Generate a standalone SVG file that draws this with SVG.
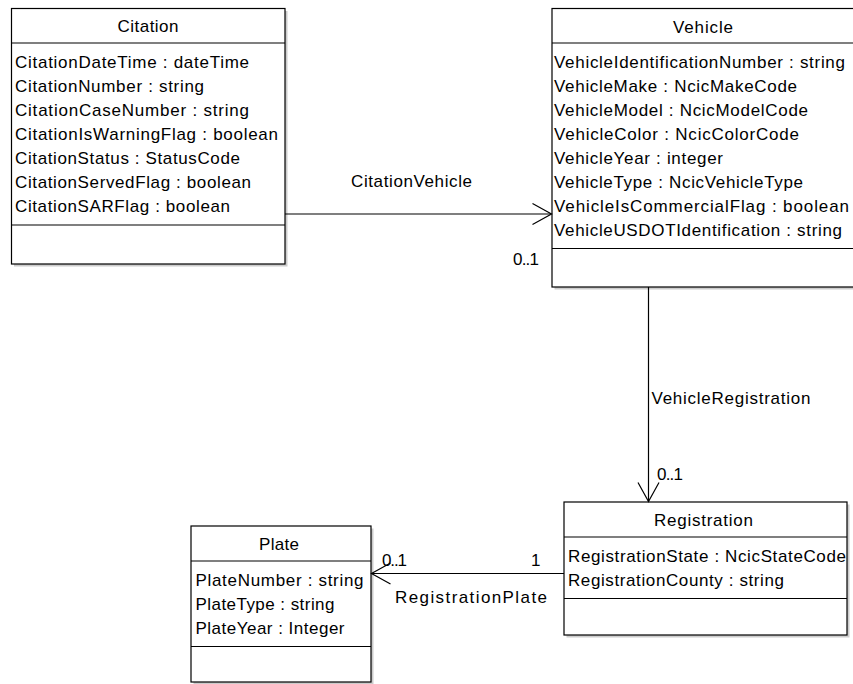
<svg xmlns="http://www.w3.org/2000/svg" width="853" height="684" viewBox="0 0 853 684">
<style>
  .box { fill: #ffffff; stroke: #000000; stroke-width: 1.2; }
  .shadow { fill: #cccccc; stroke: none; }
  .sep { stroke: #000000; stroke-width: 1.2; }
  text { font-family: "Liberation Sans", Arial, sans-serif; font-size: 17px; fill: #000000; }
  .title { text-anchor: middle; }
  .conn { stroke: #000000; stroke-width: 1.2; fill: none; marker-end: url(#open); }
</style>
<defs>
  <marker id="open" markerUnits="userSpaceOnUse" viewBox="-21 -13 24 26" markerWidth="24" markerHeight="26" refX="0" refY="0" orient="auto">
    <path d="M-19,-10.5 L0,0 L-19,10.5" fill="none" stroke="#000000" stroke-width="1.2"/>
  </marker>
</defs>
<rect width="853" height="684" fill="#ffffff"/>

<g id="Citation">
  <rect class="shadow" x="14" y="11" width="273.5" height="255.5"/>
  <rect class="box" x="11.5" y="8.5" width="273.5" height="255.5"/>
  <line class="sep" x1="11.5" y1="43" x2="285" y2="43"/>
  <line class="sep" x1="11.5" y1="225" x2="285" y2="225"/>
  <text class="title" x="148" y="32" textLength="61" lengthAdjust="spacing">Citation</text>
  <text x="15" y="68" textLength="234" lengthAdjust="spacing">CitationDateTime : dateTime</text>
  <text x="15" y="92" textLength="189" lengthAdjust="spacing">CitationNumber : string</text>
  <text x="15" y="116" textLength="234" lengthAdjust="spacing">CitationCaseNumber : string</text>
  <text x="15" y="140" textLength="263" lengthAdjust="spacing">CitationIsWarningFlag : boolean</text>
  <text x="15" y="164" textLength="225" lengthAdjust="spacing">CitationStatus : StatusCode</text>
  <text x="15" y="188" textLength="236" lengthAdjust="spacing">CitationServedFlag : boolean</text>
  <text x="15" y="212" textLength="215" lengthAdjust="spacing">CitationSARFlag : boolean</text>
</g>

<g id="Vehicle">
  <rect class="shadow" x="554.5" y="11" width="302" height="278.5"/>
  <rect class="box" x="552" y="8.5" width="302" height="278.5"/>
  <line class="sep" x1="552" y1="43" x2="854" y2="43"/>
  <line class="sep" x1="552" y1="248.5" x2="854" y2="248.5"/>
  <text class="title" x="703" y="32.5" textLength="60" lengthAdjust="spacing">Vehicle</text>
  <text x="554" y="68" textLength="291" lengthAdjust="spacing">VehicleIdentificationNumber : string</text>
  <text x="554" y="92" textLength="243" lengthAdjust="spacing">VehicleMake : NcicMakeCode</text>
  <text x="554" y="116" textLength="254" lengthAdjust="spacing">VehicleModel : NcicModelCode</text>
  <text x="554" y="140" textLength="245" lengthAdjust="spacing">VehicleColor : NcicColorCode</text>
  <text x="554" y="164" textLength="169" lengthAdjust="spacing">VehicleYear : integer</text>
  <text x="554" y="188" textLength="249" lengthAdjust="spacing">VehicleType : NcicVehicleType</text>
  <text x="554" y="212" textLength="295" lengthAdjust="spacing">VehicleIsCommercialFlag : boolean</text>
  <text x="554" y="236" textLength="288" lengthAdjust="spacing">VehicleUSDOTIdentification : string</text>
</g>

<g id="Registration">
  <rect class="shadow" x="566.5" y="504.5" width="283" height="133"/>
  <rect class="box" x="564" y="502" width="283" height="133"/>
  <line class="sep" x1="564" y1="537" x2="847" y2="537"/>
  <line class="sep" x1="564" y1="598.5" x2="847" y2="598.5"/>
  <text class="title" x="703.5" y="526" textLength="99" lengthAdjust="spacing">Registration</text>
  <text x="568" y="561.5" textLength="278" lengthAdjust="spacing">RegistrationState : NcicStateCode</text>
  <text x="568" y="585.5" textLength="216" lengthAdjust="spacing">RegistrationCounty : string</text>
</g>

<g id="Plate">
  <rect class="shadow" x="193.5" y="528.5" width="180" height="156"/>
  <rect class="box" x="191" y="526" width="180" height="156"/>
  <line class="sep" x1="191" y1="561" x2="371" y2="561"/>
  <line class="sep" x1="191" y1="646.5" x2="371" y2="646.5"/>
  <text class="title" x="279" y="550" textLength="40" lengthAdjust="spacing">Plate</text>
  <text x="195.5" y="585.5" textLength="168" lengthAdjust="spacing">PlateNumber : string</text>
  <text x="195.5" y="609.5" textLength="139" lengthAdjust="spacing">PlateType : string</text>
  <text x="195.5" y="633.5" textLength="149" lengthAdjust="spacing">PlateYear : Integer</text>
</g>

<g id="connectors">
  <path class="conn" d="M285,214 L551.5,214"/>
  <path class="conn" d="M648.5,287 L648.5,501.5"/>
  <path class="conn" d="M564,573.5 L371.5,573.5"/>
  <text x="351" y="187" textLength="121" lengthAdjust="spacing">CitationVehicle</text>
  <text x="513" y="265" textLength="26" lengthAdjust="spacing">0..1</text>
  <text x="651.5" y="404" textLength="159" lengthAdjust="spacing">VehicleRegistration</text>
  <text x="657" y="480" textLength="26" lengthAdjust="spacing">0..1</text>
  <text x="382" y="566" textLength="25" lengthAdjust="spacing">0..1</text>
  <text x="531" y="566">1</text>
  <text x="395" y="603" textLength="152" lengthAdjust="spacing">RegistrationPlate</text>
</g>
</svg>
